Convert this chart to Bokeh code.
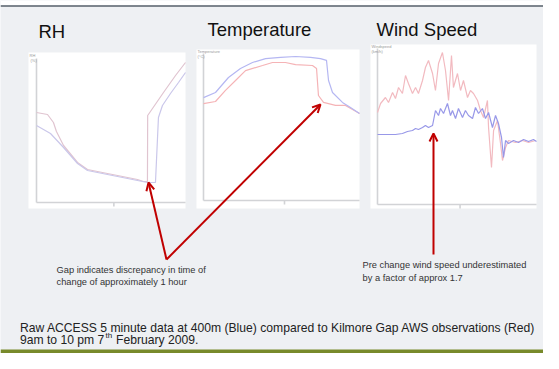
from bokeh.plotting import figure
from bokeh.models import Range1d, Arrow, OpenHead, ColumnDataSource
from bokeh.core.properties import value
from bokeh.embed import file_html
from bokeh.resources import INLINE

# ---------------- data ----------------
titles = ["RH", "Temperature", "Wind Speed"]

# RH (%) vs hour of day
rh_time_obs = [9.00, 9.96, 10.48, 10.74, 11.36, 12.58, 13.45, 14.32, 15.19, 16.07, 16.94,
               17.81, 18.34, 18.68, 18.70, 19.12, 20.08, 21.13, 22.00]
rh_obs = [45.0, 44.0, 40.0, 35.5, 28.5, 20.0, 16.5, 15.5, 14.5, 13.5, 12.5,
          11.5, 10.5, 10.5, 43.5, 47.0, 55.0, 63.5, 70.0]
rh_time_mod = [9.00, 10.22, 11.36, 12.58, 13.45, 14.32, 15.19, 16.07, 16.94, 17.81, 18.68,
               19.38, 19.64, 19.99, 20.69, 21.39, 22.00]
rh_mod = [38.5, 34.5, 27.5, 19.5, 16.0, 15.0, 14.0, 13.0, 12.0, 11.0, 10.0,
          10.0, 42.5, 48.5, 54.5, 60.0, 65.0]

# Temperature (deg C)
tp_time_obs = [9.00, 10.00, 10.83, 11.67, 12.50, 13.92, 14.75, 15.83, 16.67, 18.08, 18.42,
               18.58, 19.00, 20.00, 20.83, 21.42, 22.00]
tp_obs = [32.3, 33.0, 36.7, 40.0, 43.3, 45.0, 46.0, 46.0, 45.3, 45.0, 44.0,
          35.0, 32.7, 31.7, 31.7, 30.3, 29.0]
tp_time_mod = [9.00, 10.00, 11.08, 12.08, 13.08, 14.17, 15.42, 16.67, 17.92, 18.75, 19.25,
               19.42, 19.75, 20.58, 21.25, 22.00]
tp_mod = [34.3, 36.0, 41.0, 44.0, 46.0, 47.3, 47.7, 48.0, 47.7, 47.3, 46.7,
          40.0, 36.0, 32.7, 31.0, 29.0]

# Wind speed
ws_time_obs = [9.00, 9.25, 9.65, 9.90, 10.23, 10.47, 10.72, 11.04, 11.29, 11.53, 11.86,
               12.11, 12.35, 12.68, 12.92, 13.17, 13.50, 13.74, 13.99, 14.31, 14.56,
               14.81, 15.05, 15.21, 15.54, 15.79, 16.03, 16.36, 16.60, 16.85, 17.18,
               17.42, 17.67, 17.99, 18.08, 18.32, 18.49, 18.81, 19.06, 19.22, 19.47,
               19.71, 20.28, 20.86, 21.35, 21.92]
ws_obs = [46.0, 50.5, 53.5, 51.0, 56.0, 53.0, 58.5, 55.5, 64.5, 60.5, 55.5,
          58.5, 55.5, 62.0, 68.5, 72.0, 65.5, 57.0, 70.5, 76.0, 67.0,
          52.0, 74.5, 58.5, 65.5, 57.0, 62.0, 53.5, 57.0, 55.5, 52.0,
          47.0, 43.5, 52.0, 38.5, 18.5, 37.0, 42.0, 30.5, 22.0, 28.5,
          32.0, 31.0, 32.0, 31.0, 32.0]
ws_time_mod = [9.00, 9.65, 10.47, 11.04, 11.45, 11.86, 12.11, 12.35, 12.68, 12.92, 13.17,
               13.50, 13.58, 13.74, 13.99, 14.15, 14.40, 14.72, 14.97, 15.13, 15.38,
               15.62, 15.95, 16.19, 16.44, 16.77, 17.01, 17.26, 17.58, 17.83, 18.08,
               18.40, 18.65, 18.89, 19.14, 19.30, 19.47, 19.71, 20.12, 20.53, 20.94,
               21.35, 21.75, 22.00]
ws_mod = [35.0, 35.0, 35.0, 35.5, 36.5, 37.0, 38.0, 37.5, 38.5, 39.5, 38.5,
          39.5, 42.0, 47.0, 44.5, 48.0, 45.5, 50.5, 44.5, 47.0, 43.0,
          48.0, 43.5, 47.0, 44.5, 43.0, 48.5, 45.5, 48.0, 43.0, 46.0,
          38.5, 44.5, 40.5, 33.5, 23.5, 32.0, 30.5, 32.0, 31.0, 32.5,
          31.5, 32.5, 31.5]

t_start, t_end, t_tick = 9.0, 22.0, 15.75

caption1 = "Raw ACCESS 5 minute data at 400m (Blue) compared to Kilmore Gap AWS observations (Red)"
caption2a, caption2sup, caption2b = "9am to 10 pm 7", "th", "February 2009."
note_left = ["Gap indicates discrepancy in time of", "change of approximately 1 hour"]
note_right = ["Pre change wind speed underestimated", "by a factor of approx 1.7"]

# ---------------- layout (reference pixel coordinates) ----------------
W, H = 543, 353
X0, X1, Y0, Y1 = 0, W, 0, H
BG = "#eef0f3"
FONT = value("Liberation Sans")

p = figure(width=W, height=H, x_range=Range1d(X0, X1), y_range=Range1d(Y1, Y0),
           output_backend="svg", toolbar_location=None, min_border=0)
p.axis.visible = False
p.grid.visible = False
p.outline_line_color = None
p.title.visible = False
p.background_fill_color = BG
p.border_fill_color = BG


def xrange_for(px0, px1, d0, d1):
    s = (d1 - d0) / (px1 - px0)
    return Range1d(d0 - (px0 - X0) * s, d0 + (X1 - px0) * s)


def yrange_for(py0, px_per_unit):
    s = 1.0 / px_per_unit
    return Range1d(0 - (Y1 - py0) * s, 0 + (py0 - Y0) * s)


charts = {
    "rh": dict(panel=(28, 185, 52, 208), ax=(36, 185), ay=202, ppu=2.0, ytop=72),
    "tp": dict(panel=(196, 359, 49, 208), ax=(203, 359), ay=200, ppu=3.0, ytop=49),
    "ws": dict(panel=(370, 536, 44, 208), ax=(377, 536), ay=204, ppu=2.0, ytop=78),
}

p.extra_x_ranges = {k + "_x": xrange_for(c["ax"][0], c["ax"][1], t_start, t_end) for k, c in charts.items()}
p.extra_y_ranges = {k + "_y": yrange_for(c["ay"], c["ppu"]) for k, c in charts.items()}

# white strip and dark rule at the very top of the slide
p.quad(left=[X0], right=[X1], top=[Y0], bottom=[5], fill_color="white", line_color=None)
p.segment(x0=[X0], y0=[5.5], x1=[X1], y1=[5.5], line_color="#56606a", line_width=1.5)

# white panels
p.quad(left=[c["panel"][0] for c in charts.values()], right=[c["panel"][1] for c in charts.values()],
       top=[c["panel"][2] for c in charts.values()], bottom=[c["panel"][3] for c in charts.values()],
       fill_color="white", line_color=None)

# faint axes inside each chart
AX_COL = "#d2d3d6"
for k, c in charts.items():
    tick = 4.0 / c["ppu"]
    p.segment(x0=[t_start, t_start, t_tick], y0=[0, 0, 0], x1=[t_end, t_start, t_tick],
              y1=[0, c["ytop"], -tick], line_color=AX_COL, line_width=1.6,
              x_range_name=k + "_x", y_range_name=k + "_y")

# data lines
series = [
    ("rh", rh_time_obs, rh_obs, "#e0c4d0"), ("rh", rh_time_mod, rh_mod, "#cac7ea"),
    ("tp", tp_time_obs, tp_obs, "#f5b3b6"), ("tp", tp_time_mod, tp_mod, "#b5b7f2"),
    ("ws", ws_time_obs, ws_obs, "#f2bac0"), ("ws", ws_time_mod, ws_mod, "#9898e8"),
]
for k, tt, vv, col in series:
    p.line(x="t", y="v", source=ColumnDataSource(dict(t=tt, v=vv)), line_color=col,
           line_width=1.2, x_range_name=k + "_x", y_range_name=k + "_y")

# tiny chart axis labels
p.text(x=[29, 30, 197, 197, 371, 371], y=[55, 60, 51, 56, 46, 51],
       text=["RH", "(%)", "Temperature", "(°C)", "Windspeed", "(km/h)"],
       text_font=FONT, text_font_size=value("4px"), text_color="#9a9a9a",
       text_baseline="middle", text_align="left")

# titles
p.text(x=[38, 207, 376], y=[31, 28.5, 28.5], text=titles, text_font=FONT,
       text_font_size=value("18.5px"), text_color="#111111",
       text_baseline="middle", text_align="left")

# red arrows
RED = "#c00000"
for xs, ys, xe, ye in [(166, 259, 148, 182), (166, 259, 320, 104), (433, 254, 433, 133)]:
    p.add_layout(Arrow(end=OpenHead(size=8, line_color=RED, line_width=2),
                       x_start=xs, y_start=ys, x_end=xe, y_end=ye,
                       line_color=RED, line_width=2))

# annotation notes
p.text(x=[56, 56], y=[269, 281], text=note_left, text_font=FONT, text_font_size=value("9.3px"),
       text_color="#333333", text_baseline="middle", text_align="left")
p.text(x=[362, 362], y=[264, 277], text=note_right, text_font=FONT, text_font_size=value("9.3px"),
       text_color="#333333", text_baseline="middle", text_align="left")

# caption
p.text(x=[19.5, 19.5], y=[327, 339], text=[caption1, caption2a], text_font=FONT,
       text_font_size=value("12.15px"), text_color="#222222", text_baseline="middle", text_align="left")
p.text(x=[105], y=[335], text=[caption2sup], text_font=FONT, text_font_size=value("8px"),
       text_color="#222222", text_baseline="middle", text_align="left")
p.text(x=[115.5], y=[339], text=[caption2b], text_font=FONT, text_font_size=value("12.15px"),
       text_color="#222222", text_baseline="middle", text_align="left")

# green footer band (top part visible)
p.quad(left=[X0], right=[X1], top=[349], bottom=[Y1], fill_color="#788a2b", line_color=None)

open("out.html", "w").write(file_html(p, INLINE))
